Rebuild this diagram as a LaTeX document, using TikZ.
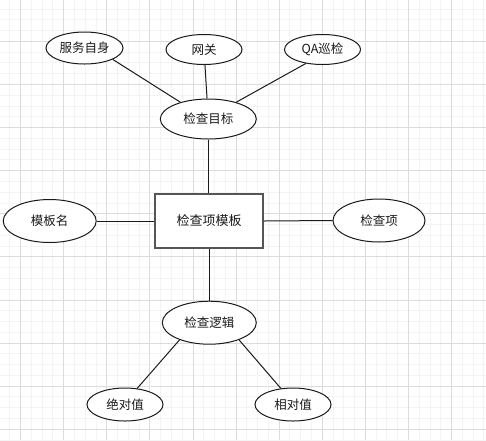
\documentclass[tikz,border=0pt]{standalone}
\usepackage{fontspec}
\setmainfont{Noto Sans CJK SC}
\usetikzlibrary{shapes.geometric}
\definecolor{gminor}{HTML}{F4F4F4}
\definecolor{gmajor}{HTML}{DCDCDC}
\definecolor{ink}{HTML}{1A1A1A}
\definecolor{boxline}{HTML}{555555}
\begin{document}
\begin{tikzpicture}[x=1pt,y=-1pt,
  ent/.style={draw=ink,line width=1pt,fill=white,ellipse,inner sep=0pt,text=ink,font=\fontsize{12.5}{14}\selectfont},
  boxnode/.style={draw=boxline,line width=1.2pt,fill=white,rectangle,inner sep=0pt,minimum width=108pt,minimum height=54pt,text=ink,font=\fontsize{13}{15}\selectfont},
  link/.style={draw=ink,line width=1pt}]
\path[use as bounding box] (0,0) rectangle (486,440);
\fill[white] (0,0) rectangle (486,440);
\begin{scope}
\clip (0,0) rectangle (486,440);
\foreach \i in {-2,...,46} {
  \draw[gminor,line width=0.8pt] ({20.5+10.775*\i},0) -- ({20.5+10.775*\i},440);
  \draw[gminor,line width=0.8pt] (0,{-1.8+10.775*\i}) -- (486,{-1.8+10.775*\i});
}
\foreach \i in {-1,...,11} {
  \draw[gmajor,line width=0.8pt] ({20.5+43.1*\i},0) -- ({20.5+43.1*\i},440);
  \draw[gmajor,line width=0.8pt] (0,{-1.8+43.1*\i}) -- (486,{-1.8+43.1*\i});
}
\end{scope}
% nodes
\node[boxnode] (tpl) at (209,221) {检查项模板};
\node[ent,minimum width=77pt,minimum height=32pt] (svc) at (84.5,48) {服务自身};
\node[ent,minimum width=76pt,minimum height=30pt] (gw) at (204,49.5) {网关};
\node[ent,minimum width=76pt,minimum height=30pt] (qa) at (322.5,49.5) {QA巡检};
\node[ent,minimum width=96pt,minimum height=40pt] (tgt) at (208.3,119) {检查目标};
\node[ent,minimum width=93pt,minimum height=43pt] (name) at (49.7,221) {模板名};
\node[ent,minimum width=92pt,minimum height=43pt] (item) at (379,220.5) {检查项};
\node[ent,minimum width=94pt,minimum height=43pt] (logic) at (209.3,322.7) {检查逻辑};
\node[ent,minimum width=76pt,minimum height=33pt] (abs) at (125,404.5) {绝对值};
\node[ent,minimum width=76pt,minimum height=33pt] (rel) at (293,404.5) {相对值};
% connectors
\draw[link] (svc.338) -- (tgt.149);
\draw[link] (gw) -- (tgt);
\draw[link] (qa.220) -- (tgt.31);
\draw[link] (tgt.south) -- (tgt.south |- tpl.north);
\draw[link] (name.east) -- (tpl.west |- name.east);
\draw[link] (tpl.east) -- (item.west);
\draw[link] (tpl.south) -- (tpl.south |- logic.north);
\draw[link] (logic.210) -- (abs.53);
\draw[link] (logic.330) -- (rel.127);
\end{tikzpicture}
\end{document}
